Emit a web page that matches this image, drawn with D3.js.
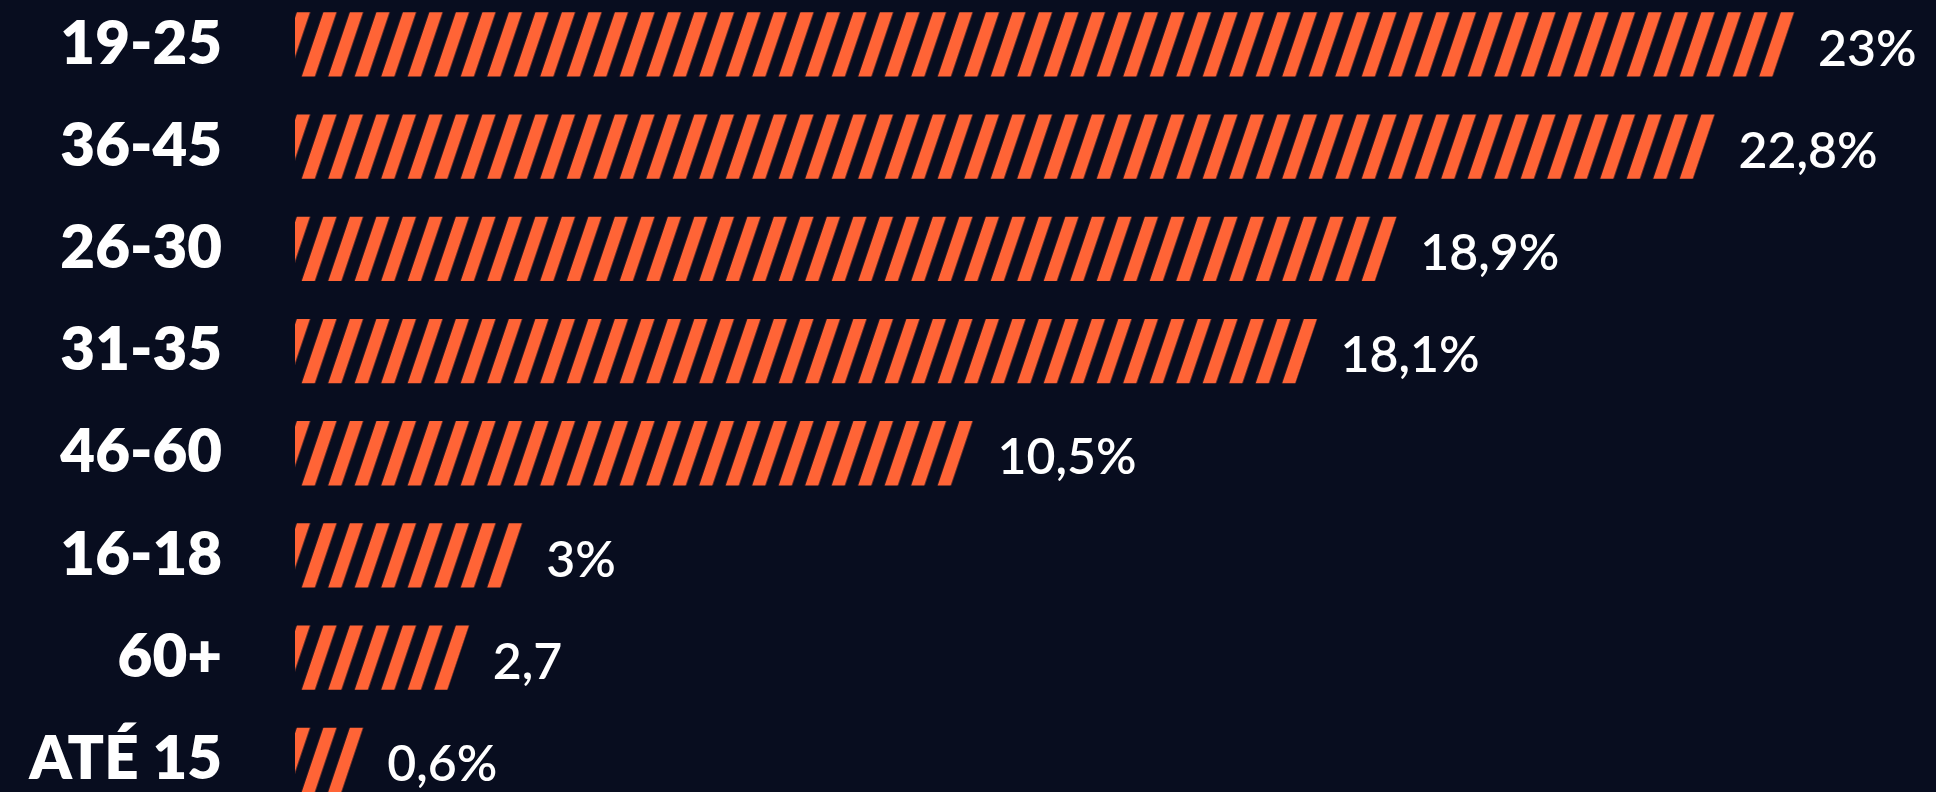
<!DOCTYPE html>
<html>
<head>
<meta charset="utf-8">
<script src="https://cdn.jsdelivr.net/npm/d3@7"></script>
<style>
  body { margin: 0; background: #080d1f; }
</style>
</head>
<body>
<div id="chart"></div>
<script>
const categories = ["19-25", "36-45", "26-30", "31-35", "46-60", "16-18", "60+", "ATÉ 15"];
// bar lengths as they are drawn in the source graphic (it is not drawn to scale)
const barValues = [23, 21.78, 16.9, 15.68, 10.42, 3.5, 2.68, 1.06];
const valueLabels = ["23%", "22,8%", "18,9%", "18,1%", "10,5%", "3%", "2,7", "0,6%"];

const width = 1936,
	height = 792,
	margin = { top: 12.3, left: 295, right: 141 };

const orange = "#ff6436",
	stripePeriod = 26.5,
	stripeWidth = 13.3,
	slope = 0.337; // horizontal shift of a stripe per px of height

const svg = d3
	.select("#chart")
	.append("svg")
	.attr("width", width)
	.attr("height", height)
	.style("display", "block");

svg.append("rect").attr("width", width).attr("height", height).attr("fill", "#080d1f");

const x = d3.scaleLinear().domain([0, 23]).range([0, width - margin.left - margin.right]);

const y = d3
	.scaleBand()
	.domain(categories)
	.range([margin.top, height])
	.paddingInner(0.371)
	.paddingOuter(0);

const bw = y.bandwidth();
const slant = slope * bw;

const pattern = svg
	.append("defs")
	.append("pattern")
	.attr("id", "stripes")
	.attr("patternUnits", "userSpaceOnUse")
	.attr("width", stripePeriod)
	.attr("height", 200)
	.attr("patternTransform", `skewX(${(-Math.atan(slope) * 180) / Math.PI})`);
pattern
	.append("rect")
	.attr("x", 1.8)
	.attr("width", stripeWidth)
	.attr("height", 200)
	.attr("fill", orange);

const rows = svg
	.selectAll("g.row")
	.data(categories)
	.join("g")
	.attr("class", "row");

rows.append("path")
	.attr("transform", (d) => `translate(${margin.left},${y(d)})`)
	.attr("fill", "url(#stripes)")
	.attr("d", (d, i) => {
		const end = x(barValues[i]);
		return `M0,0H${end}L${end - slant},${bw}H0Z`;
	});

rows.append("text")
	.attr("x", 222)
	.attr("y", (d) => y(d) + bw - 13)
	.attr("text-anchor", "end")
	.attr("fill", "#ffffff")
	.style("font", "800 60px Lato, sans-serif")
	.text((d) => d);

rows.append("text")
	.attr("x", (d, i) => margin.left + x(barValues[i]) + 23)
	.attr("y", (d) => y(d) + bw - 11)
	.attr("text-anchor", "start")
	.attr("fill", "#ffffff")
	.style("font", "600 50px Lato, sans-serif")
	.text((d, i) => valueLabels[i]);
</script>
</body>
</html>
